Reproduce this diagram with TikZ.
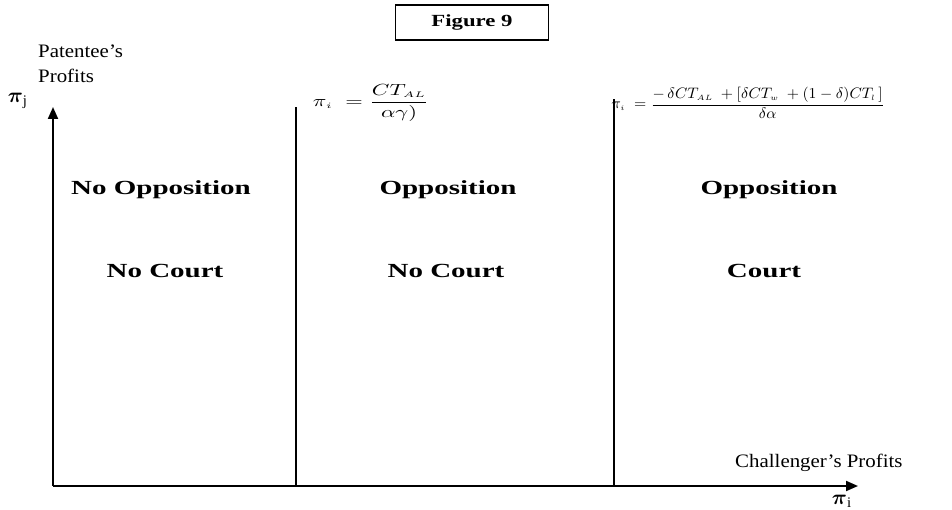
\documentclass[tikz,border=0pt]{standalone}
\usepackage{amsmath}
\usepackage{fontspec}
\setmainfont{Liberation Serif}
\usepackage{graphicx}
\usetikzlibrary{arrows.meta}
\newcommand{\boldlab}[1]{\scalebox{1.45}[1]{\bfseries\fontsize{20}{24}\selectfont #1}}
\newcommand{\plainlab}[1]{\scalebox{1.1}[1]{\fontsize{19}{23}\selectfont #1}}
\tikzset{
  axis/.style={line width=2pt, -{Triangle[length=12pt,width=10pt]}},
  divider/.style={line width=1.4pt},
  region/.style={inner sep=0pt, anchor=center},
  plain/.style={inner sep=0pt},
}
\begin{document}
\begin{tikzpicture}[x=1pt,y=-1pt]
\useasboundingbox (0,0) rectangle (952,510);
% title box
\node[draw, line width=1.2pt, minimum width=153pt, minimum height=35pt, inner sep=0pt] (title) at (472,22.5)
  {\scalebox{1.34}[1]{\bfseries\fontsize{17}{20}\selectfont Figure 9}};
% axes
\coordinate (O) at (53,486);
\coordinate (ytop) at (53,107);
\coordinate (xend) at (858,486);
\draw[axis] (O) -- (ytop);
\draw[axis] (O) -- (xend);
% dividers
\coordinate (d1b) at (296,486);
\coordinate (d1t) at (296,107);
\coordinate (d2b) at (614,486);
\coordinate (d2t) at (614,99);
\draw[divider] (d1b) -- (d1t);
\draw[divider] (d2b) -- (d2t);
% axis labels
\node[plain, anchor=base west] (pat) at (38,58) {\plainlab{Patentee’s}};
\node[plain, anchor=base west] (prof) at (38,83) {\plainlab{Profits}};
\node[plain] (pij) at (18,101) {\scalebox{2.1}{$\boldsymbol{\pi}_{\mathrm{j}}$}};
\node[plain, anchor=base west] (chal) at (735,467) {\plainlab{Challenger’s Profits}};
\node[plain] (pii) at (842,501) {\scalebox{2.1}{$\boldsymbol{\pi}_{\mathrm{i}}$}};
% formulas
\node[plain] (f1) at (371,103) {\resizebox*{116pt}{37pt}{$\pi_{\scriptscriptstyle i}\;=\dfrac{CT_{\scriptscriptstyle AL}}{\alpha\gamma)}$}};
\node[plain] (f2) at (748,103) {\resizebox*{273pt}{32pt}{$\pi_{\scriptscriptstyle i}\;=\dfrac{-\,\delta CT_{\scriptscriptstyle AL}\;+[\delta CT_{\scriptscriptstyle w}\;+(1-\delta)CT_{\scriptscriptstyle l}\,]}{\delta\alpha}$}};
% region labels
\node[region] (r1a) at (161,190) {\boldlab{No Opposition}};
\node[region] (r2a) at (448,190) {\boldlab{Opposition}};
\node[region] (r3a) at (769,190) {\boldlab{Opposition}};
\node[region] (r1b) at (165,271) {\boldlab{No Court}};
\node[region] (r2b) at (446,271) {\boldlab{No Court}};
\node[region] (r3b) at (764,271) {\boldlab{Court}};
\end{tikzpicture}
\end{document}
